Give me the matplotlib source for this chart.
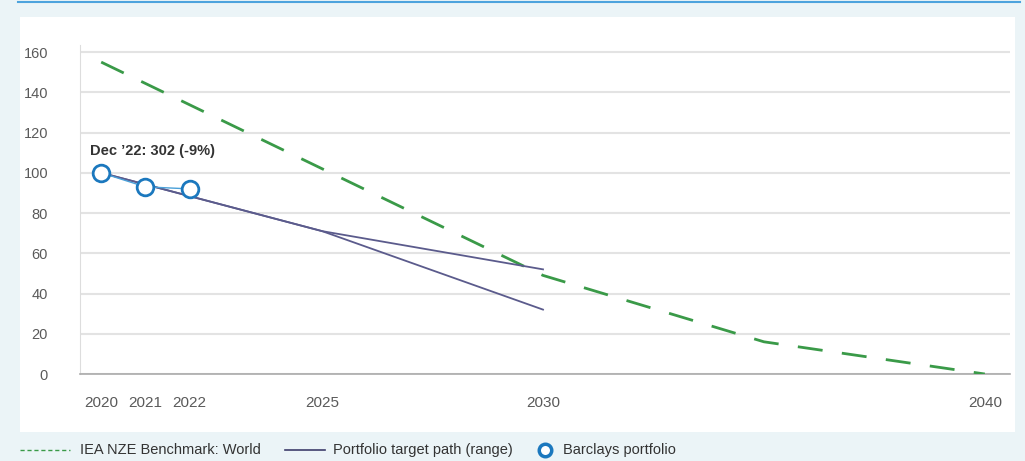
import matplotlib
matplotlib.use("Agg")
import matplotlib.pyplot as plt
from matplotlib.lines import Line2D
from matplotlib.patches import Rectangle

plt.rcParams['font.family'] = ['Liberation Sans', 'DejaVu Sans']

# data
iea_years = [2020, 2030, 2035, 2040]
iea_vals = [155, 49, 16, 0]

path_upper_years = [2020, 2025, 2030]
path_upper_vals = [100, 71, 52]
path_lower_years = [2020, 2025, 2030]
path_lower_vals = [100, 71, 32]

port_years = [2020, 2021, 2022]
port_vals = [100, 93, 92]

xticks = [2020, 2021, 2022, 2025, 2030, 2040]
yticks = [0, 20, 40, 60, 80, 100, 120, 140, 160]
annot = "Dec \u201922: 302 (-9%)"
legend_labels = ['IEA NZE Benchmark: World', 'Portfolio target path (range)', 'Barclays portfolio']

BG = '#ebf4f7'
GREEN = '#3a9a48'
SLATE = '#5b5b8c'
BLUE = '#1b78be'
TXT = '#5a5a5a'

W, H = 1025, 461
fig = plt.figure(figsize=(10.25, 4.61), dpi=100)
fig.patch.set_facecolor(BG)

def fx(px):
    return px / W

def fy(py):
    return 1 - py / H

# white panel and top rule
fig.patches.append(Rectangle((fx(20), fy(432)), fx(995), 415 / H,
                             transform=fig.transFigure, facecolor='white',
                             edgecolor='none', zorder=-5))
fig.lines.append(Line2D([fx(18), fx(1020)], [fy(2), fy(2)],
                        transform=fig.transFigure, color='#4da3dd', lw=1.5))

ax = fig.add_axes([fx(80), fy(374), fx(930), 329 / H])
ax.set_facecolor('none')

ax.plot(iea_years, iea_vals, color=GREEN, lw=2, dashes=(9, 7), zorder=3)
ax.plot(path_upper_years, path_upper_vals, color=SLATE, lw=1.3, zorder=3)
ax.plot(path_lower_years, path_lower_vals, color=SLATE, lw=1.3, zorder=3)
ax.plot(port_years, port_vals, color='#4aa0d8', lw=1, zorder=4)
ax.plot(port_years, port_vals, ls='none', marker='o', ms=12, mfc='white',
        mec=BLUE, mew=2, zorder=5)

ax.text(2019.75, 111, annot, fontsize=10.5, fontweight='bold', color='#333333',
        va='center', ha='left')

ax.set_xlim(2019.52, 2040.57)
ax.set_ylim(0, 163.5)
ax.set_xticks(xticks)
ax.set_yticks(yticks)
ax.tick_params(axis='both', length=0, labelsize=10.5, labelcolor=TXT)
ax.tick_params(axis='x', labelsize=11, pad=16)
ax.tick_params(axis='y', pad=23)

ax.grid(axis='y', color='#e3e3e3', lw=1.5)
ax.set_axisbelow(True)
for s in ['top', 'right']:
    ax.spines[s].set_visible(False)
ax.spines['left'].set_color('#dddddd')
ax.spines['bottom'].set_color('#aaaaaa')
ax.spines['bottom'].set_linewidth(1.2)

# legend drawn by hand below the panel
ly = fy(450)
fig.lines.append(Line2D([fx(20), fx(70)], [ly, ly], transform=fig.transFigure,
                        color=GREEN, lw=1, dashes=(3, 2)))
fig.text(fx(80), ly, legend_labels[0], fontsize=10.5, color='#333333', va='center')
fig.lines.append(Line2D([fx(285), fx(325)], [ly, ly], transform=fig.transFigure,
                        color='#3d3d6b', lw=1.2))
fig.text(fx(333), ly, legend_labels[1], fontsize=10.5, color='#333333', va='center')
fig.lines.append(Line2D([fx(545)], [ly], transform=fig.transFigure, ls='none',
                        marker='o', ms=9, mfc='white', mec=BLUE, mew=2.5))
fig.text(fx(563), ly, legend_labels[2], fontsize=10.5, color='#333333', va='center')

fig.savefig('out.png', dpi=100, facecolor=BG)
